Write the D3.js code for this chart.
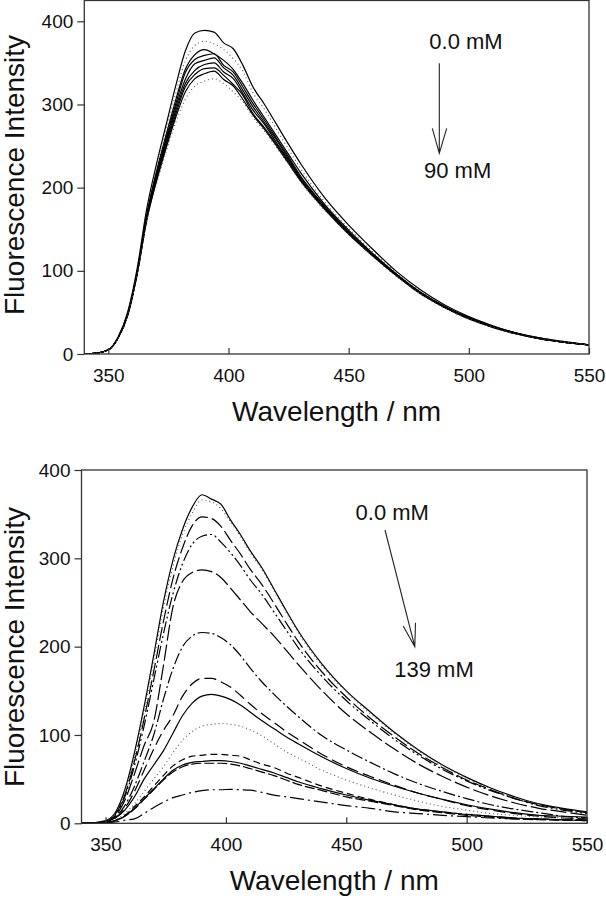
<!DOCTYPE html>
<html><head><meta charset="utf-8">
<script src="https://cdn.jsdelivr.net/npm/d3@7"></script>
<style>html,body{margin:0;padding:0;background:#fff}svg{display:block}</style>
</head><body>
<svg id="c" width="606" height="900"></svg>
<script>
// ---- data ----
const wavelengths = [340,345,350,354,358,362,366,370,374,378,382,386,390,394,398,402,406,410,415,420,425,430,440,450,460,470,480,490,500,510,520,530,540,550];
const xTicks = [350,400,450,500,550];
const yTicks = [0,100,200,300,400];

// upper panel: 0.0 mM -> 90 mM
const top_0mM  = [0,1,5,20,50,103,175,228,275,322,364,386,389,387,374,367,347,322,300,276,252,229,188,155,126,99,77,59,45,34,25,19,15,11];
const top_c1   = [0,1,5,19,48,100,170,222,268,313,352,371,376,373,366,355,340,315,294,270,246,223,183,151,123,97,75,58,44,33,25,19,14,11];
const top_c2   = [0,1,5,19,48,99,168,219,263,305,342,360,366,361,353,342,325,306,284,262,240,218,180,149,121,96,74,57,44,33,25,19,14,11];
const top_c3   = [0,1,5,19,47,98,166,216,259,300,338,354,359,361,347,339,321,302,281,259,237,214,178,147,120,95,74,57,43,33,25,18,14,11];
const top_c4   = [0,1,5,19,47,98,165,214,256,296,330,349,353,356,344,335,317,298,278,257,235,212,177,146,119,95,73,56,43,33,25,18,14,11];
const top_c5   = [0,1,5,19,47,97,164,212,253,292,325,341,348,350,339,331,313,294,276,254,233,210,176,146,119,94,73,56,43,33,24,18,14,11];
const top_c6   = [0,1,5,19,46,96,162,209,250,288,321,336,343,344,335,324,311,290,272,252,231,209,175,145,118,94,73,56,43,32,24,18,14,11];
const top_c7   = [0,1,5,19,46,96,161,207,247,284,315,331,337,340,330,322,306,288,270,250,229,208,174,144,118,94,72,56,42,32,24,18,14,11];
const top_90mM = [0,1,5,18,45,95,159,204,243,278,306,322,328,331,325,315,303,285,268,248,228,207,173,144,117,93,72,55,42,32,24,18,14,11];

// lower panel: 0.0 mM -> 139 mM
const bot_0mM   = [0,0.5,3,12,38,80,132,190,250,298,333,358,372,367,361,343,327,309,289,265,241,218,180,150,126,103,83,66,52,40,30,22,17,13];
const bot_c1    = [0,0.5,3,11,35,75,126,184,243,291,327,351,366,364,356,341,325,307,287,263,239,216,178,149,124,102,82,65,51,39,29,22,16,12];
const bot_c2    = [0,0.5,2,10,32,70,118,172,228,277,312,337,347,345,336,320,305,288,270,249,227,206,171,143,119,98,79,63,49,38,28,21,16,12];
const bot_c3    = [0,0.5,2,9,30,65,110,162,214,260,294,316,325,327,318,306,292,276,259,239,219,199,166,139,116,95,77,61,48,37,28,20,15,11];
const bot_c4    = [0,0.5,2,8,26,56,88,115,178,245,274,284,287,285,278,266,253,240,226,212,196,180,150,124,103,84,67,53,41,31,23,17,13,9];
const bot_c5    = [0,0.5,2,7,20,42,70,100,140,175,200,212,216,215,210,202,190,176,160,146,133,121,99,83,69,56,45,36,28,21,16,12,8,6];
const bot_c6    = [0,0.5,2,6,17,36,60,84,105,122,144,158,164,164,160,154,145,135,124,114,104,95,78,64,53,43,34,27,20,15,11,8,6,5];
const bot_c7    = [0,0.5,2,6,15,30,50,66,82,102,122,136,144,146,144,140,134,126,116,107,98,90,75,62,51,42,34,27,21,16,12,9,8,7];
const bot_c8    = [0,0.5,1.5,4,11,22,36,50,64,80,94,104,110,112,113,112,110,106,99,90,81,74,60,49,40,32,25,19,15,11,9,7,6,5];
const bot_c9    = [0,0.3,1.2,3,9,19,30,42,54,65,72,76,77,78,78,77,76,72,67,63,57,52,42,34,27,21,16,13,10,8,6,5,4,3.8];
const bot_c10   = [0,0.3,1,3,8,17,28,39,50,60,66,69,70,71,71,70,68,65,61,57,52,47,39,32,26,21,16,13,10,8,6,5,4,3];
const bot_c11   = [0,0.3,1,3,8,16,27,38,49,58,64,67,68,68,68,67,65,62,58,54,49,44,37,30,25,20,15,12,9,7,5,4,3.5,3];
const bot_139mM = [0,0.2,0.6,1.5,3.5,5,11,18,24,29,32,35,37,38,38,38.5,38,37.5,35,32,30,28,24,20,17,13,11,9,7.5,6,5,4.5,4,3.8];

const topCurves = [top_0mM, top_c1, top_c2, top_c3, top_c4, top_c5, top_c6, top_c7, top_90mM];
const botCurves = [bot_0mM, bot_c1, bot_c2, bot_c3, bot_c4, bot_c5, bot_c6, bot_c7, bot_c8, bot_c9, bot_c10, bot_c11, bot_139mM];

// ---- styles ----
const DOT = {dash:"1,3", color:"#555", w:1.1};
const SOL = {dash:null, color:"#000", w:1.2};
const topStyles = [SOL, DOT, SOL, SOL, SOL, SOL, SOL, SOL, DOT];
const botStyles = [
  SOL, DOT,
  {dash:"14,4", color:"#000", w:1.2},
  {dash:"12,3,2,3,2,3", color:"#000", w:1.2},
  {dash:"16,4", color:"#000", w:1.2},
  {dash:"12,3,2,3", color:"#000", w:1.2},
  {dash:"12,5", color:"#000", w:1.2},
  SOL, DOT,
  {dash:"7,4", color:"#000", w:1.2},
  SOL,
  {dash:"10,3", color:"#000", w:1.2},
  {dash:"14,4,2,4", color:"#000", w:1.2}
];

const FONT = "'Liberation Sans', Arial, Helvetica, sans-serif";
const svg = d3.select("#c");

function panel(cfg){
  const x = d3.scaleLinear().domain([340,550]).range([cfg.left, cfg.right]);
  const y = d3.scaleLinear().domain([0,cfg.ymax]).range([cfg.bottom, cfg.top]);
  const g = svg.append("g");

  const line = d3.line().x((d,i)=>x(wavelengths[i])).y(d=>y(d)).curve(d3.curveMonotoneX);
  const clipId = "clip"+cfg.id;
  svg.append("clipPath").attr("id",clipId).append("rect")
    .attr("x",cfg.left).attr("y",cfg.top).attr("width",cfg.right-cfg.left).attr("height",cfg.bottom-cfg.top);
  g.append("g").attr("clip-path",`url(#${clipId})`).selectAll("path").data(cfg.curves).join("path")
    .attr("d", d=>line(d))
    .attr("fill","none")
    .attr("stroke",(d,i)=>cfg.styles[i].color)
    .attr("stroke-width",(d,i)=>cfg.styles[i].w)
    .attr("stroke-dasharray",(d,i)=>cfg.styles[i].dash)
    .attr("stroke-linejoin","round");

  // frame
  g.append("rect").attr("x",cfg.left).attr("y",cfg.top)
    .attr("width",cfg.right-cfg.left).attr("height",cfg.bottom-cfg.top)
    .attr("fill","none").attr("stroke","#333").attr("stroke-width",1.3);

  const ya = g.append("g").attr("transform",`translate(${cfg.left},0)`)
    .call(d3.axisLeft(y).tickValues(yTicks).tickSize(7).tickPadding(4).tickFormat(d3.format("d")));
  const xa = g.append("g").attr("transform",`translate(0,${cfg.bottom})`)
    .call(d3.axisBottom(x).tickValues(xTicks).tickSizeInner(-6).tickSizeOuter(0).tickPadding(14.5).tickFormat(d3.format("d")));
  [ya,xa].forEach(a=>{
    a.select(".domain").remove();
    a.selectAll("line").attr("stroke","#333").attr("stroke-width",1.2);
    a.selectAll("text").attr("font-family",FONT).attr("font-size",19).attr("fill","#111");
  });

  g.append("text").attr("x",(cfg.left+cfg.right)/2).attr("y",cfg.xTitleY)
    .attr("text-anchor","middle").attr("font-family",FONT).attr("font-size",28).attr("fill","#111")
    .text("Wavelength / nm");
  g.append("text").attr("transform",`translate(24,${cfg.yTitleY}) rotate(-90)`)
    .attr("text-anchor","middle").attr("font-family",FONT).attr("font-size",28).attr("fill","#111")
    .text("Fluorescence Intensity");

  // annotation
  const a = cfg.ann;
  g.append("text").attr("x",a.t1[0]).attr("y",a.t1[1]).attr("font-family",FONT).attr("font-size",22).attr("fill","#111").text(a.s1);
  g.append("text").attr("x",a.t2[0]).attr("y",a.t2[1]).attr("font-family",FONT).attr("font-size",22).attr("fill","#111").text(a.s2);
  g.append("path").attr("d",`M${a.from[0]},${a.from[1]}L${a.to[0]},${a.to[1]}M${a.w1[0]},${a.w1[1]}L${a.to[0]},${a.to[1]}L${a.w2[0]},${a.w2[1]}`)
    .attr("fill","none").attr("stroke","#222").attr("stroke-width",1.1);
}

panel({id:"a", left:84.3, right:589, top:0.5, bottom:354, ymax:425,
  curves: topCurves, styles: topStyles, xTitleY:421, yTitleY:175,
  ann:{s1:"0.0 mM", t1:[429.3,49.3], s2:"90 mM", t2:[424,178.3],
       from:[439.3,63.3], to:[439.3,153.3], w1:[432.3,128.3], w2:[446.7,128.3]}});

panel({id:"b", left:81.5, right:587, top:470, bottom:823.3, ymax:400,
  curves: botCurves, styles: botStyles, xTitleY:890, yTitleY:647,
  ann:{s1:"0.0 mM", t1:[355.6,520], s2:"139 mM", t2:[394.3,677],
       from:[385,530], to:[414.8,646.7], w1:[403.2,626], w2:[415.5,622.7]}});
</script>
</body></html>
